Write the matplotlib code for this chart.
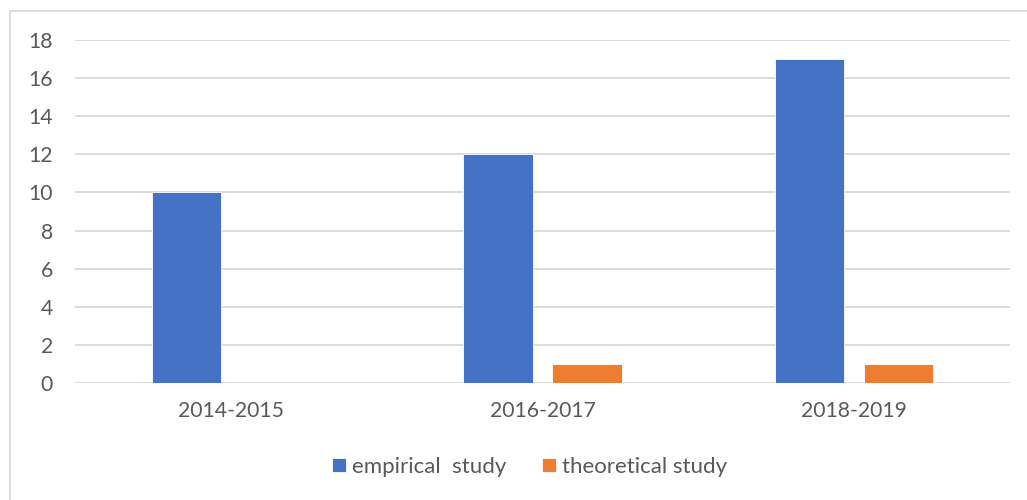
import matplotlib
matplotlib.use("Agg")
import matplotlib.pyplot as plt
import matplotlib.patches as mpatches
import numpy as np

categories = ["2014-2015", "2016-2017", "2018-2019"]
empirical = [10, 12, 17]
theoretical = [0, 1, 1]
series_names = ["empirical  study", "theoretical study"]
yticks = [0, 2, 4, 6, 8, 10, 12, 14, 16, 18]

plt.rcParams['font.family'] = ['Lato', 'DejaVu Sans']
txt_col = '#595959'

fig = plt.figure(figsize=(10.27, 5.0), dpi=100)
ax = fig.add_axes([75/1027, 1-383/500, (1010-75)/1027, (383-40)/500])

# chart border (only top and left show in the crop)
fig.patches.append(mpatches.Rectangle((10/1027, -0.1), 1.2, 1-11/500+0.1,
                                      transform=fig.transFigure, fill=False,
                                      edgecolor='#D9D9D9', linewidth=1.2))

x = np.arange(len(categories))
w = 0.222
off = 0.143
ax.bar(x - off, empirical, w, color='#4472C4', edgecolor='white', linewidth=0.6,
       label=series_names[0], zorder=3)
ax.bar(x + off, theoretical, w, color='#ED7D31', edgecolor='white', linewidth=0.6,
       label=series_names[1], zorder=3)

ax.set_xlim(-0.5, 2.5)
ax.set_ylim(0, 18)
ax.set_yticks(yticks)
ax.set_xticks(x)
ax.set_xticklabels(categories)
ax.tick_params(axis='both', length=0, labelsize=15.2, colors=txt_col)
ax.tick_params(axis='y', pad=16)
ax.tick_params(axis='x', pad=13)
for s in ax.spines.values():
    s.set_visible(False)
ax.grid(axis='y', color='#D9D9D9', linewidth=1.3, zorder=0)
ax.set_axisbelow(True)

leg = fig.legend(loc='center', bbox_to_anchor=(530/1027, 1-467/500), ncol=2,
                 frameon=False, fontsize=16, handlelength=0.6, handleheight=0.6,
                 handletextpad=0.3, columnspacing=1.6)
for t in leg.get_texts():
    t.set_color(txt_col)

fig.savefig('out.png', dpi=100)
